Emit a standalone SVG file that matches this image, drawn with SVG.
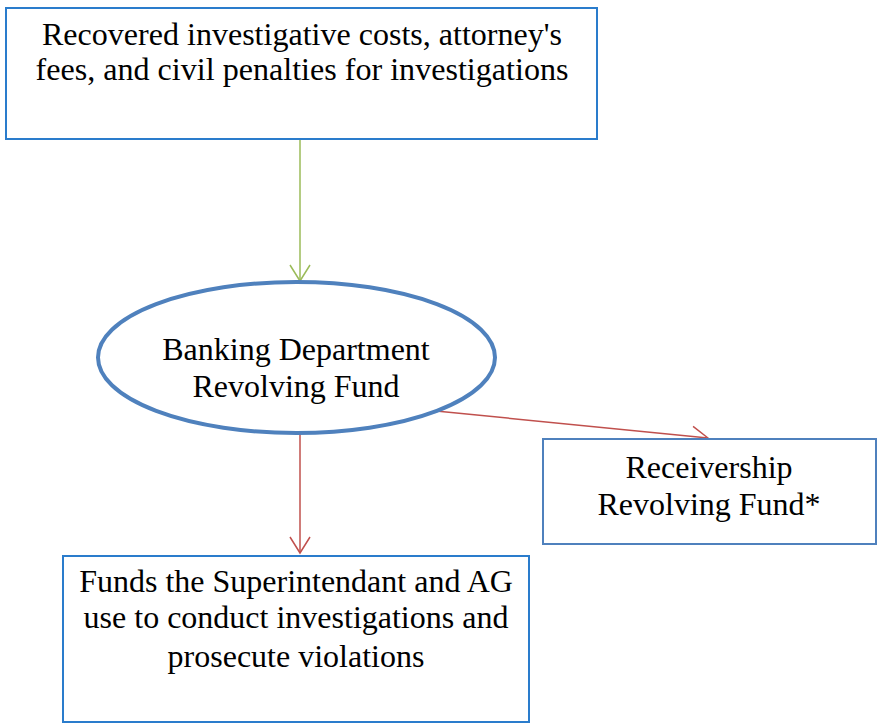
<svg xmlns="http://www.w3.org/2000/svg" width="877" height="724" viewBox="0 0 877 724">
<style>
text{font-family:"Liberation Serif","Times New Roman",serif;font-size:32px;fill:#000;text-anchor:middle}
.box{fill:#fff;stroke:#2a7ccc;stroke-width:2}
.box2{fill:#fff;stroke:#4f81bd;stroke-width:2}
.green{stroke:#9bbb59;stroke-width:1.5;fill:none}
.red{stroke:#c0504d;stroke-width:1.5;fill:none}
</style>
<defs>
<marker id="ag" markerWidth="24" markerHeight="24" refX="17" refY="11" orient="auto" markerUnits="userSpaceOnUse" viewBox="0 0 24 24"><path d="M1,1 L17,11 L1,21" fill="none" stroke="#9bbb59" stroke-width="1.5"/></marker>
<marker id="ar" markerWidth="24" markerHeight="24" refX="17" refY="11" orient="auto" markerUnits="userSpaceOnUse" viewBox="0 0 24 24"><path d="M1,1 L17,11 L1,21" fill="none" stroke="#c0504d" stroke-width="1.5"/></marker>
</defs>
<g id="connectors">
<line class="green" x1="300" y1="140" x2="300" y2="281" marker-end="url(#ag)"/>
<line class="red" x1="300" y1="433" x2="300" y2="553" marker-end="url(#ar)"/>
<line class="red" x1="436" y1="411" x2="708" y2="438" marker-end="url(#ar)"/>
</g>
<g id="source">
<rect class="box" x="6" y="8" width="591" height="131"/>
<text x="302" y="45" textLength="520" lengthAdjust="spacingAndGlyphs">Recovered investigative costs, attorney's</text>
<text x="302" y="80" textLength="533" lengthAdjust="spacingAndGlyphs">fees, and civil penalties for investigations</text>
</g>
<g id="fund">
<ellipse cx="296.5" cy="357.5" rx="198.5" ry="75.5" fill="#fff" stroke="#4f81bd" stroke-width="4"/>
<text x="296" y="360">Banking Department</text>
<text x="296" y="397">Revolving Fund</text>
</g>
<g id="receivership">
<rect class="box2" x="543" y="439" width="333" height="105"/>
<text x="709" y="478">Receivership</text>
<text x="709" y="515">Revolving Fund*</text>
</g>
<g id="uses">
<rect class="box" x="63" y="556" width="466" height="166"/>
<text x="296" y="592">Funds the Superintendant and AG</text>
<text x="296" y="628">use to conduct investigations and</text>
<text x="296" y="667">prosecute violations</text>
</g>
</svg>
